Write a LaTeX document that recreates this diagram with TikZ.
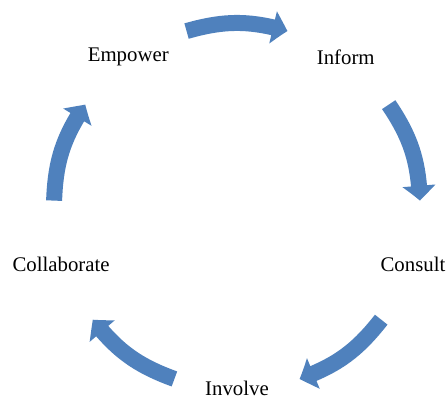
\documentclass[tikz,border=0pt]{standalone}
\usepackage{fontspec}
\setmainfont{Liberation Serif}
\usetikzlibrary{arrows.meta,bending}
\definecolor{cyclearrow}{RGB}{79,129,189}

\begin{document}
\begin{tikzpicture}[x=1pt,y=1pt,
  stage/.style={font=\fontsize{20.8}{25}\selectfont},
  cycle arrow/.style={draw=cyclearrow,line width=16pt,
    -{Triangle[width=32pt,length=15pt,bend]}}]
 \useasboundingbox (0,0) rectangle (447,398);
 \begin{scope}[shift={(237,191)}]
  \node[stage] (inform) at (54:185pt) {Inform};
  \node[stage] (consult) at (-18:185pt) {Consult};
  \node[stage] (involve) at (-90:181pt) {Involve};
  \node[stage] (collaborate) at (-162:185pt) {Collaborate};
  \node[stage] (empower) at (126:185pt) {Empower};
  \foreach \i in {0,...,4} {
    \coordinate (s\i) at ({106-72*\i}:183pt);
    \coordinate (e\i) at ({74-72*\i}:183pt);
    \draw[cycle arrow] (s\i) to[bend left=16] (e\i);
  }
 \end{scope}
\end{tikzpicture}
\end{document}
